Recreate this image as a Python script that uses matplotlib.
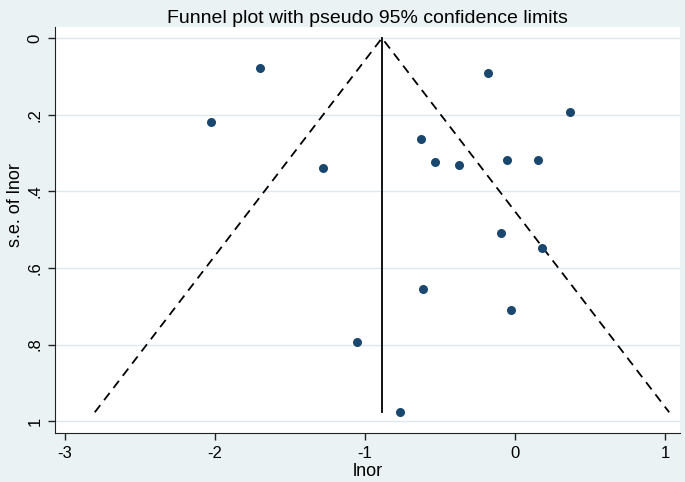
import matplotlib
matplotlib.use("Agg")
import matplotlib.pyplot as plt
import numpy as np

plt.rcParams['font.family'] = ['Liberation Sans', 'DejaVu Sans']

# study estimates (log odds ratio) and standard errors
lnor = [-1.70, -2.03, -1.28, -0.18, 0.367, -0.627, -0.533, -0.373,
        -0.053, 0.153, -0.093, 0.18, -0.613, -0.027, -1.053, -0.767]
se_lnor = [0.078, 0.219, 0.339, 0.091, 0.193, 0.264, 0.324, 0.332,
           0.319, 0.319, 0.509, 0.548, 0.655, 0.71, 0.794, 0.977]

pooled = -0.887   # fixed effect estimate (vertical line)
se_max = max(se_lnor)

xticks = [-3, -2, -1, 0, 1]
yticks = [0, 0.2, 0.4, 0.6, 0.8, 1.0]
yticklabels = ['0', '.2', '.4', '.6', '.8', '1']

bg = '#EAF2F3'
navy = '#1A476F'

fig = plt.figure(figsize=(6.85, 4.82), dpi=100, facecolor=bg)
ax = fig.add_axes([55 / 685, 1 - 433 / 482, 625 / 685, 406 / 482])
ax.set_facecolor('white')

# grid
for t in yticks:
    ax.axhline(t, color='#DDE8EE', lw=1.0, zorder=0)

# pseudo 95% limits
ax.plot([pooled - 1.96 * se_max, pooled, pooled + 1.96 * se_max],
        [se_max, 0, se_max], color='black', lw=1.3, ls=(0, (5, 3.5)), zorder=2)
ax.plot([pooled, pooled], [0, se_max], color='black', lw=1.3, zorder=2)

ax.scatter(lnor, se_lnor, s=30, color=navy, edgecolors=navy, zorder=3)

ax.set_xlim(-3.067, 1.10)
ax.set_ylim(1.031, -0.029)

ax.set_xticks(xticks)
ax.set_xticklabels([str(t) for t in xticks], fontsize=12)
ax.set_yticks(yticks)
ax.set_yticklabels(yticklabels, fontsize=12, rotation=90, va='center')

ax.spines['top'].set_visible(False)
ax.spines['right'].set_visible(False)
ax.spines['left'].set_color('#222222')
ax.spines['bottom'].set_color('#222222')
ax.tick_params(direction='out', length=5, width=1, color='#222222', pad=4)

ax.set_xlabel('lnor', fontsize=13, labelpad=2)
ax.set_ylabel('s.e. of lnor', fontsize=13, va='center', ha='center')
ax.yaxis.set_label_coords(-0.0624, 0.5616)
ax.set_title('Funnel plot with pseudo 95% confidence limits', fontsize=14, pad=2)

fig.savefig('out.png', dpi=100, facecolor=bg)
